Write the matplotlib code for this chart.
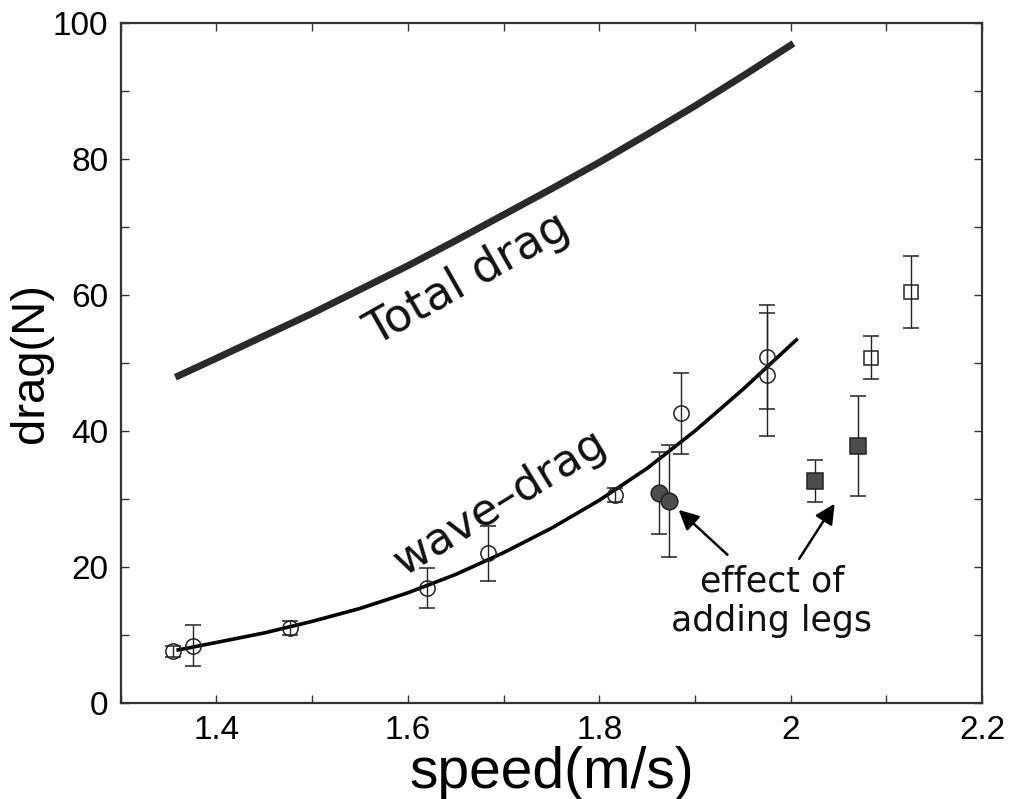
import matplotlib.pyplot as plt
import numpy as np

plt.rcParams['font.family'] = ['Liberation Sans', 'DejaVu Sans']

# model curves
total_speed = [1.357, 1.40, 1.45, 1.50, 1.55, 1.60, 1.65, 1.70, 1.75, 1.80, 1.85, 1.90, 1.95, 2.003]
total_drag = [47.9, 50.7, 54.0, 57.3, 60.8, 64.3, 68.0, 71.8, 75.6, 79.5, 83.6, 87.8, 92.2, 97.0]

wave_speed = [1.36, 1.40, 1.45, 1.50, 1.55, 1.60, 1.65, 1.70, 1.75, 1.80, 1.85, 1.90, 1.95, 2.006]
wave_drag = [7.8, 8.9, 10.3, 12.0, 13.9, 16.2, 18.9, 22.1, 25.7, 29.8, 34.5, 40.0, 46.1, 53.4]

# measurements
open_circ_x = [1.355, 1.375, 1.477, 1.620, 1.684, 1.816, 1.885, 1.975, 1.975]
open_circ_y = [7.6, 8.4, 11.0, 16.9, 22.0, 30.6, 42.6, 50.9, 48.3]
open_circ_err = [0.8, 3.0, 1.0, 3.0, 4.0, 1.0, 6.0, 7.7, 9.0]

legs_circ_x = [1.862, 1.873]
legs_circ_y = [30.9, 29.7]
legs_circ_err = [6.0, 8.2]

legs_sq_x = [2.025, 2.070]
legs_sq_y = [32.7, 37.8]
legs_sq_err = [3.1, 7.3]

open_sq_x = [2.084, 2.126]
open_sq_y = [50.8, 60.4]
open_sq_err = [3.2, 5.3]

xticks = [1.4, 1.6, 1.8, 2.0, 2.2]
xticklabels = ['1.4', '1.6', '1.8', '2', '2.2']
yticks = [0, 20, 40, 60, 80, 100]

fig = plt.figure(figsize=(10.16, 7.99), dpi=100)
ax = fig.add_axes([0.1189, 0.1202, 0.8476, 0.851])

ax.plot(total_speed, total_drag, color='#2a2a2a', lw=5, solid_capstyle='butt', zorder=2)
ax.plot(wave_speed, wave_drag, color='black', lw=2.6, zorder=2)

eb = dict(ecolor='#222222', elinewidth=1.0, capsize=6, capthick=1.0, ls='none', zorder=3)
ax.errorbar(open_circ_x, open_circ_y, yerr=open_circ_err, fmt='o', ms=11,
            mfc='none', mec='#222222', mew=1.1, **eb)
ax.errorbar(legs_circ_x, legs_circ_y, yerr=legs_circ_err, fmt='o', ms=12,
            mfc='#4d4d4d', mec='#222222', mew=1.1, **eb)
ax.errorbar(legs_sq_x, legs_sq_y, yerr=legs_sq_err, fmt='s', ms=11,
            mfc='#4d4d4d', mec='#222222', mew=1.1, **eb)
ax.errorbar(open_sq_x, open_sq_y, yerr=open_sq_err, fmt='s', ms=10,
            mfc='none', mec='#222222', mew=1.1, **eb)

ax.text(1.663, 62.3, 'Total drag', rotation=29.5, rotation_mode='anchor',
        ha='center', va='center', fontsize=33, family=['DejaVu Sans'], color='#111111')
ax.text(1.696, 29.4, 'wave\u2013drag', rotation=31.5, rotation_mode='anchor',
        ha='center', va='center', fontsize=32, family=['DejaVu Sans'], color='#111111')

arrow = dict(arrowstyle='-|>', lw=1.8, color='black', mutation_scale=30, shrinkA=0, shrinkB=0)
ax.annotate('', xy=(1.883, 28.4), xytext=(1.934, 21.8), arrowprops=arrow)
ax.annotate('', xy=(2.046, 29.3), xytext=(2.009, 21.2), arrowprops=arrow)
ax.text(1.9805, 14.9, 'effect of\nadding legs', ha='center', va='center',
        fontsize=25, family=['DejaVu Sans'], linespacing=1.2, color='#111111')

ax.set_xlim(1.3, 2.2)
ax.set_ylim(0, 100)
ax.set_xticks(xticks)
ax.set_xticklabels(xticklabels)
ax.set_xticks(np.arange(1.3, 2.25, 0.1), minor=True)
ax.set_yticks(yticks)
ax.set_yticks(np.arange(0, 101, 10), minor=True)
ax.tick_params(which='both', direction='in', top=True, right=True,
               length=6, width=1.0, color='#333333')
ax.tick_params(which='major', labelsize=24, pad=9)
for s in ax.spines.values():
    s.set_linewidth(1.6)
    s.set_color('#333333')

ax.set_xlabel('speed(m/s)', fontsize=41, labelpad=0)
ax.set_ylabel('drag(N)', fontsize=34, labelpad=0)

fig.savefig('out.png', dpi=100)
